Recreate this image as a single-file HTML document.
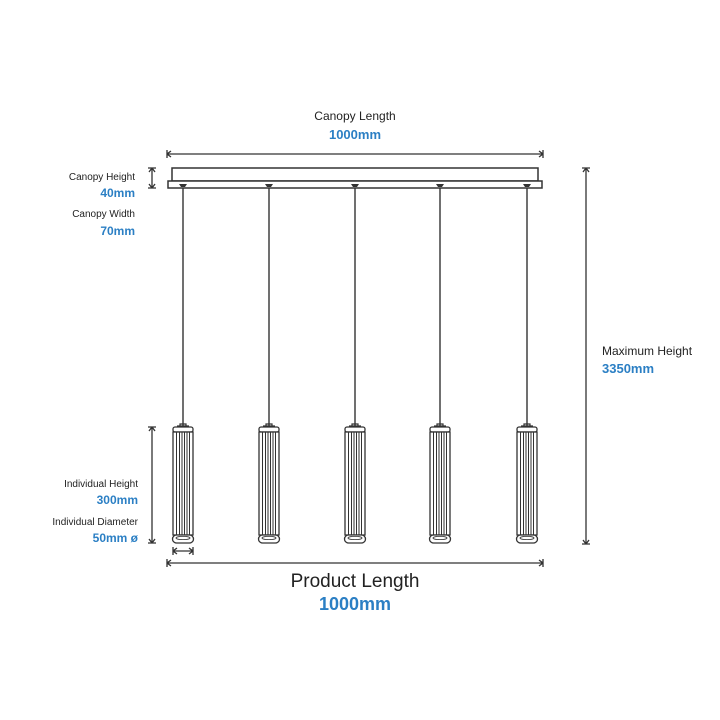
<!DOCTYPE html>
<html><head><meta charset="utf-8"><style>
html,body{margin:0;padding:0;background:#fff;}
svg{display:block;}
text{font-family:"Liberation Sans",sans-serif;}
.k{fill:#222;}
.b{fill:#2b7fc4;font-weight:bold;}
</style></head><body>
<svg width="720" height="720" viewBox="0 0 720 720" xmlns="http://www.w3.org/2000/svg">
<defs>
<g id="p" stroke="#333" fill="none">
  <path d="M-6 426 h12 M-3 426 v-2 h6 v2" stroke-width="1.2"/>
  <rect x="-10" y="427" width="20" height="5" rx="2" fill="#fff" stroke-width="1.3"/>
  <rect x="-10" y="432" width="20" height="103" fill="#fff" stroke-width="1.3"/>
  <path d="M-6.5 432v103 M-3.5 432v103 M-1 432v103 M1.5 432v103 M4 432v103 M6.5 432v103" stroke-width="1"/>
  <rect x="-10.5" y="535" width="21" height="8" rx="4" fill="#fff" stroke-width="1.3"/>
  <ellipse cx="0" cy="538" rx="7" ry="1.6" stroke-width="0.8"/>
</g>
</defs>
<g stroke="#333" stroke-width="1.5" fill="none">
  <rect x="172" y="168" width="366" height="13"/>
  <rect x="168" y="181" width="374" height="7" fill="#fff"/>
  <path d="M183 188V426 M269 188V426 M355 188V426 M440 188V426 M527 188V426" stroke-width="1.4"/>
</g>
<g fill="#333">
  <path d="M179 184h8l-2 3h-4z M265 184h8l-2 3h-4z M351 184h8l-2 3h-4z M436 184h8l-2 3h-4z M523 184h8l-2 3h-4z"/>
</g>
<use href="#p" x="183"/><use href="#p" x="269"/><use href="#p" x="355"/><use href="#p" x="440"/><use href="#p" x="527"/>
<g stroke="#333" stroke-width="1.3" fill="none">
  <path d="M167 154H543 M167 150v8 M543 150v8 M167 154l4-3 M167 154l4 3 M543 154l-4-3 M543 154l-4 3"/>
  <path d="M152 168V188 M148 168h8 M148 188h8 M152 168l-3 4 M152 168l3 4 M152 188l-3-4 M152 188l3-4"/>
  <path d="M586 168V544 M582 168h8 M582 544h8 M586 168l-3 4 M586 168l3 4 M586 544l-3-4 M586 544l3-4"/>
  <path d="M152 427V543 M148 427h8 M148 543h8 M152 427l-3 4 M152 427l3 4 M152 543l-3-4 M152 543l3-4"/>
  <path d="M173 551H193 M173 547v8 M193 547v8 M173 551l4-3 M173 551l4 3 M193 551l-4-3 M193 551l-4 3"/>
  <path d="M167 563H543 M167 559v8 M543 559v8 M167 563l4-3 M167 563l4 3 M543 563l-4-3 M543 563l-4 3"/>
</g>
<text x="355" y="120" text-anchor="middle" class="k" font-size="12">Canopy Length</text>
<text x="355" y="139" text-anchor="middle" class="b" font-size="13">1000mm</text>
<text x="135" y="180" text-anchor="end" class="k" font-size="10">Canopy Height</text>
<text x="135" y="197" text-anchor="end" class="b" font-size="12">40mm</text>
<text x="135" y="217" text-anchor="end" class="k" font-size="10">Canopy Width</text>
<text x="135" y="235" text-anchor="end" class="b" font-size="12">70mm</text>
<text x="138" y="487" text-anchor="end" class="k" font-size="10">Individual Height</text>
<text x="138" y="504" text-anchor="end" class="b" font-size="12">300mm</text>
<text x="138" y="525" text-anchor="end" class="k" font-size="10">Individual Diameter</text>
<text x="138" y="542" text-anchor="end" class="b" font-size="12">50mm ø</text>
<text x="602" y="355" class="k" font-size="12">Maximum Height</text>
<text x="602" y="373" class="b" font-size="13">3350mm</text>
<text x="355" y="587" text-anchor="middle" class="k" font-size="19">Product Length</text>
<text x="355" y="610" text-anchor="middle" class="b" font-size="18">1000mm</text>
</svg>
</body></html>
